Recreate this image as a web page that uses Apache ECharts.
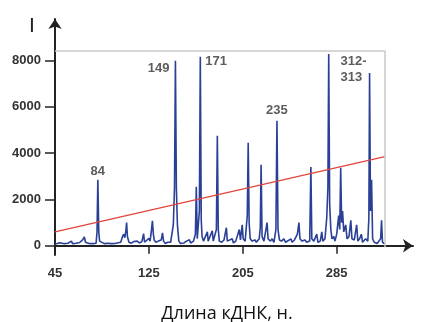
<!DOCTYPE html>
<html>
<head>
<meta charset="utf-8">
<script src="https://cdn.jsdelivr.net/npm/echarts@6/dist/echarts.min.js"></script>
<style>
html,body{margin:0;padding:0;background:#fff}
#chart{width:423px;height:322px}
</style>
</head>
<body>
<div id="chart"></div>
<script>
// спектр: длина кДНК (н.) и интенсивность
var specX=[45,47,49,50,53,56,59,60,63,66,68.5,70,71,74,77,80,80.8,81.5,82.3,83,84,87,90,93,96,99,101,102.5,103.5,104.5,105.5,106,106.7,108,110,112,113.5,115,116,117,119,120.5,121.3,123,125,126,127,128,128.8,129.5,131,133,135.5,136.6,137.5,139,141,142.5,143.5,144.5,145.8,146.8,147.6,148.4,149.3,150.5,152,155,157,159.5,160.5,163,164.6,165.4,166.2,167.4,168,168.8,169.6,170.3,171.5,173,174.8,175.5,177,179,179.8,181.5,182.5,183.3,184.1,185,187,189,191,191.8,193.5,196,197,199,202,203,204.5,205.3,207,208.8,209.6,210.4,211.3,213,215.5,216.5,219,219.9,220.6,221.4,223,225.7,226.5,228.5,230,231.5,233.2,234.1,235,236.2,238,240,241.5,243,246,247,249,251.5,252.8,253.7,255.5,258,259.5,262,263,263.8,265.5,268,269,271,272.3,273.2,275,276.5,277.5,278.2,279,280,281,282.5,283.5,285,286.7,287.6,288.4,289.2,290,291,292.7,293.8,295.5,297,298,300,302,303,304.5,306,307,309.6,311.5,312.4,313,313.8,314.7,315.6,317,318,319.5,321,322.4,323.2,324,325,326]
var specY=[80,100,130,70,90,110,200,90,110,140,250,380,150,100,90,110,600,2850,600,200,120,90,110,90,100,130,150,400,500,350,700,1000,400,150,110,180,140,200,260,120,180,520,150,200,320,200,600,1080,500,250,150,200,250,560,200,100,150,220,150,200,900,2500,8000,2500,900,200,100,120,200,260,120,200,500,2550,300,300,1500,8170,1100,400,200,150,600,200,150,650,200,200,700,4750,700,200,150,250,780,200,150,300,120,200,700,250,900,300,200,1300,4450,1000,300,200,250,150,300,800,3500,400,200,1000,300,200,300,150,700,5400,700,250,200,300,150,200,300,150,250,500,1000,300,200,250,150,200,3400,300,200,500,150,200,600,200,300,1200,2500,8290,1800,700,300,400,200,500,1300,700,3370,1000,1500,600,900,300,400,1100,300,250,900,200,300,500,150,300,200,1200,7470,1500,2850,300,150,200,100,120,300,1100,150,100,80]
// красная линия тренда
var trendX=[45,326]
var trendY=[600,3850]
// подписи пиков
var peakX=[81.5,147.6,168.8,234.1,313]
var peakText=['84','149','171','235','312-\n313']
var xTicks=[45,125,205,285]
var yTicks=[0,2000,4000,6000,8000]

var spec=[]
for(var i=0;i<specX.length;i++){spec.push([specX[i],specY[i]])}
var trend=[]
for(var i=0;i<trendX.length;i++){trend.push([trendX[i],trendY[i]])}

// положения подписей
var labPos=[
	{position:'top',distance:2},
	{position:'left',distance:6,offset:[0,8]},
	{position:'right',distance:5,offset:[0,5]},
	{position:'top',distance:4},
	{position:'left',distance:0,align:'left',offset:[-29,-3],lineHeight:16}
]
var peaks=[]
for(var i=0;i<peakX.length;i++){
	var h=specY[specX.indexOf(peakX[i])]
	var lab={show:true,formatter:peakText[i]}
	for(var k in labPos[i]){lab[k]=labPos[i][k]}
	peaks.push({value:[peakX[i],h],label:lab})
}

var boxTop=8430
var boxRight=326
var boxBottom=-60

var mychart=echarts.init(document.getElementById('chart'))
var option={
	animation:false,
	title:{
		text:'I',
		left:24,top:11,
		textStyle:{fontFamily:'Liberation Sans',fontSize:21,fontWeight:'normal',color:'#222'}
	},
	grid:{left:55,right:10,top:19,bottom:67,outerBoundsMode:'none',containLabel:false},
	xAxis:{
		type:'value',min:45,max:350,
		name:'Длина кДНК, н.',
		nameLocation:'middle',nameGap:50,
		nameTextStyle:{fontFamily:'Open Sans',fontSize:18,color:'#111',padding:[0,14,0,0]},
		axisLine:{lineStyle:{color:'#222',width:2},symbol:['none','arrow'],symbolSize:[10,10]},
		axisTick:{customValues:xTicks,length:8,lineStyle:{color:'#222',width:1.5}},
		axisLabel:{customValues:xTicks,margin:12,fontFamily:'Liberation Sans',fontWeight:'bold',fontSize:13,color:'#333',formatter:function(v){return String(v)}},
		splitLine:{show:false}
	},
	yAxis:{
		type:'value',min:-400,max:9800,
		axisLine:{show:true,onZero:false,lineStyle:{color:'#222',width:2},symbol:['none','arrow'],symbolSize:[10,10]},
		axisTick:{show:true,customValues:yTicks,length:10,lineStyle:{color:'#222',width:1.5}},
		axisLabel:{customValues:yTicks,margin:14,fontFamily:'Liberation Sans',fontWeight:'bold',fontSize:13,color:'#333',formatter:function(v){return String(v)}},
		splitLine:{show:false}
	},
	series:[{
		type:'line',
		data:spec,
		symbol:'none',
		lineStyle:{color:'#2a4096',width:1.6},
		z:3,
		markLine:{
			silent:true,symbol:'none',
			label:{show:false},
			lineStyle:{color:'#c8c8c8',width:1.5,type:'solid'},
			data:[
				[{coord:[45,boxTop]},{coord:[boxRight,boxTop]}],
				[{coord:[boxRight,boxBottom]},{coord:[boxRight,boxTop]}]
			]
		}
	},{
		type:'line',
		data:trend,
		symbol:'none',
		lineStyle:{color:'#e0453c',width:1.2},
		z:4
	},{
		type:'scatter',
		data:peaks,
		symbolSize:0,
		label:{fontFamily:'Liberation Sans',fontWeight:'bold',fontSize:13,color:'#333'},
		z:5
	}]
}
mychart.setOption(option)
</script>
</body>
</html>
